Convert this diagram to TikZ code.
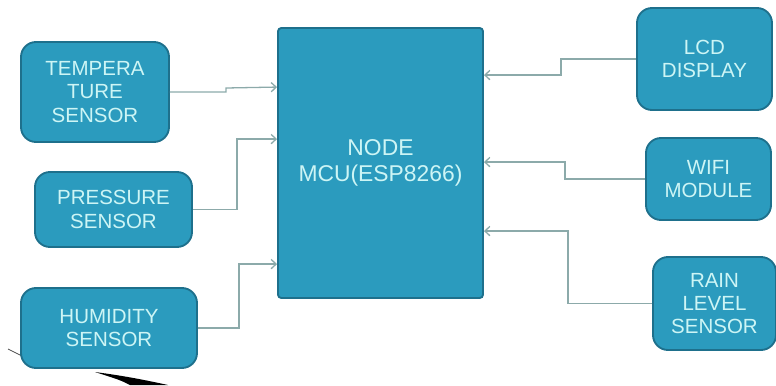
\documentclass[tikz,border=0pt]{standalone}
\usepackage{fontspec}
\setmainfont{Liberation Sans}
\usetikzlibrary{calc,positioning,arrows.meta}
\definecolor{boxfill}{RGB}{43,155,190}
\definecolor{boxline}{RGB}{30,112,140}
\definecolor{boxtext}{RGB}{205,245,245}
\definecolor{wire}{RGB}{140,170,170}
\tikzset{
    block/.style={rectangle, rounded corners=0.45cm, draw=boxline, line width=1.6pt, fill=boxfill,
        text=boxtext, align=center, font=\fontsize{17.5}{20}\selectfont, inner sep=2pt},
    link/.style={draw=wire, line width=1.1pt, -{Straight Barb[length=1.5mm, width=2.8mm]}}
}
\begin{document}
\begin{tikzpicture}[x=0.03cm, y=-0.03cm]
    \useasboundingbox (0,0) rectangle (776,385);

    % slide decoration
    \fill[black] (95,372) .. controls (125,376) and (145,380) .. (168,385) -- (130,385) .. controls (120,380) .. (95,372);
    \draw[black!70, line width=0.6pt] (8,349) -- (22,356);

    % Nodes
    \node[block, minimum width=4.44cm, minimum height=3cm] (temp) at (95,92) {TEMPERA\\TURE\\SENSOR};
    \node[block, minimum width=4.71cm, minimum height=2.25cm] (pres) at (113.5,209.5) {PRESSURE\\SENSOR};
    \node[block, minimum width=5.28cm, minimum height=2.4cm] (hum) at (109,328) {HUMIDITY\\SENSOR};
    \node[block, rounded corners=0.1cm, minimum width=6.15cm, minimum height=8.1cm,
        font=\fontsize{19.5}{22.5}\selectfont] (mcu) at (380.5,163) {NODE\\MCU(ESP8266)};
    \node[block, minimum width=4.05cm, minimum height=3.06cm] (lcd) at (704.5,59) {LCD\\DISPLAY};
    \node[block, minimum width=3.75cm, minimum height=2.46cm] (wifi) at (708.5,179) {WIFI\\MODULE};
    \node[block, minimum width=3.69cm, minimum height=2.79cm] (rain) at (714.5,303.5) {RAIN\\LEVEL\\SENSOR};

    % ports on the mcu
    \coordinate (in1) at ($(mcu.north west)+(0,60)$);
    \coordinate (in2) at ($(mcu.north west)+(0,112)$);
    \coordinate (in3) at ($(mcu.north west)+(0,237)$);
    \coordinate (out1) at ($(mcu.north east)+(0,48)$);
    \coordinate (out2) at ($(mcu.north east)+(0,135)$);
    \coordinate (out3) at ($(mcu.north east)+(0,204)$);

    % edges
    \draw[link] (temp.east) -- ++(56,0) -- ++(0,-4) -- (in1);
    \draw[link] (pres.east) -- ++(44,0) |- (in2);
    \draw[link] (hum.east) -- ++(41,0) |- (in3);
    \draw[link] (lcd.west) -- ++(-75,0) |- (out1);
    \draw[link] (wifi.west) -- ++(-80,0) |- (out2);
    \draw[link] (rain.west) -- ++(-84,0) |- (out3);
\end{tikzpicture}
\end{document}
